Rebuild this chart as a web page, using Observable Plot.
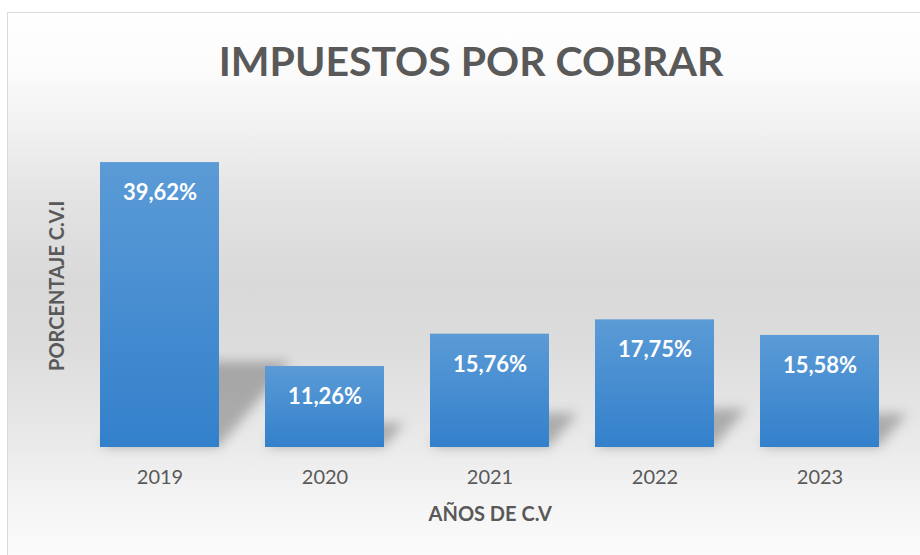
<!DOCTYPE html>
<html><head><meta charset="utf-8">
<script src="https://cdn.jsdelivr.net/npm/d3@7"></script>
<script src="https://cdn.jsdelivr.net/npm/@observablehq/plot@0.6"></script>
<style>
body{margin:0;background:#fff;width:920px;height:555px;overflow:hidden;position:relative;font-family:Lato,sans-serif}
#frame{position:absolute;left:7px;top:12px;width:1000px;height:600px;border:1px solid #d9d9d9;overflow:hidden;
 background:linear-gradient(to bottom,#ffffff 0%,#fbfbfb 10%,#f0f0f0 20%,#e2e2e2 32%,#d9d9d9 45%,#dcdcdc 55%,#e8e8e8 70%,#f5f5f5 82%,#fefefe 95%,#ffffff 100%)}
#title{position:absolute;left:0;top:23px;width:926px;text-align:center;font-family:Lato,sans-serif;font-weight:700;font-size:41px;line-height:50px;color:#595959;white-space:nowrap}
#chart{position:absolute;left:0;top:88px}
</style></head>
<body><div id="frame"><div id="title">IMPUESTOS POR COBRAR</div><div id="chart"></div></div>
<script>
const years = ["2019", "2020", "2021", "2022", "2023"];
const values = [39.62, 11.26, 15.76, 17.75, 15.58];
const xTitle = "AÑOS DE C.V";
const yTitle = "PORCENTAJE C.V.I";

const data = years.map((year, i) => ({year, value: values[i]}));
const fmt = v => d3.format(".2f")(v).replace(".", ",") + "%";

function defs() {
  const g = d3.create("svg:g");
  const d = g.append("defs");
  const lg = d.append("linearGradient").attr("id", "barGrad").attr("x1", 0).attr("y1", 0).attr("x2", 0).attr("y2", 1);
  lg.append("stop").attr("offset", "0%").attr("stop-color", "#5b9bd6");
  lg.append("stop").attr("offset", "100%").attr("stop-color", "#3380cb");
  const f = d.append("filter").attr("id", "shadowBlur").attr("x", "-50%").attr("y", "-50%").attr("width", "200%").attr("height", "200%");
  f.append("feGaussianBlur").attr("stdDeviation", 6);
  return g.node();
}

const chart = Plot.plot({
  width: 920,
  height: 454,
  marginLeft: 67.7,
  marginRight: 24.2,
  marginTop: 22.4,
  marginBottom: 108,
  style: {background: "transparent", fontFamily: "Lato, sans-serif", overflow: "visible"},
  x: {domain: years, paddingInner: 0.28, paddingOuter: 0.14, axis: null},
  y: {domain: [0, 45], axis: null},
  marks: [
    defs,
    Plot.barY(data, {x: "year", y: "value", fill: "#000", fillOpacity: 0.26}),
    Plot.barY(data, {x: "year", y: "value", fill: "url(#barGrad)"}),
    Plot.text(data, {x: "year", y: "value", text: d => fmt(d.value), dy: 30.5, lineAnchor: "middle",
      fill: "#ffffff", fontSize: 22, fontWeight: 700}),
    Plot.text(years, {x: d => d, frameAnchor: "bottom", dy: 30, lineAnchor: "middle", fontSize: 20, fill: "#595959"}),
    Plot.text([xTitle], {frameAnchor: "bottom", dy: 67.5, lineAnchor: "middle", textAnchor: "middle",
      fontSize: 20, fontWeight: 700, fill: "#595959"}),
    Plot.text([yTitle], {frameAnchor: "left", dx: -18.7, rotate: -90, lineAnchor: "middle", textAnchor: "middle",
      fontSize: 20, fontWeight: 700, fill: "#595959"})
  ]
});

const groups = chart.querySelectorAll('g[aria-label="bar"]');
const sg = groups[0];
sg.setAttribute("filter", "url(#shadowBlur)");
sg.querySelectorAll("rect").forEach(r => {
  const x = +r.getAttribute("x"), y = +r.getAttribute("y"), h = +r.getAttribute("height");
  const yb = y + h;
  r.setAttribute("transform", `translate(${x},${yb}) skewX(-40) scale(1,0.3) translate(${-x},${-yb})`);
});

document.getElementById("chart").appendChild(chart);
</script>
</body></html>
